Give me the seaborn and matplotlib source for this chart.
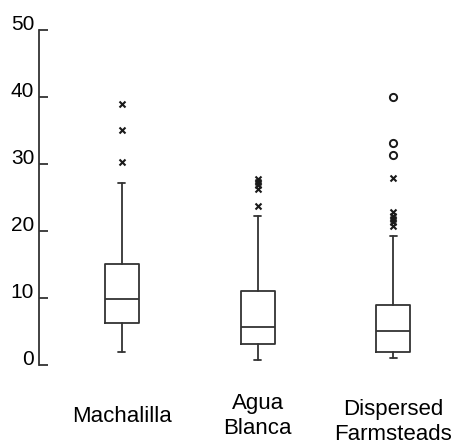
import matplotlib
matplotlib.use("Agg")
import matplotlib.pyplot as plt
import seaborn as sns
import pandas as pd
from matplotlib.transforms import blended_transform_factory

# Summary values
sites = ["Machalilla", "Agua\nBlanca", "Dispersed\nFarmsteads"]
medians = [9.9, 5.7, 5.1]
q1s = [6.2, 3.1, 1.9]
q3s = [15.1, 11.1, 8.9]
whisker_lo = [2.0, 0.7, 1.1]
whisker_hi = [27.2, 22.2, 19.3]
outliers = [[39.0, 35.1, 30.3],
            [27.8, 27.3, 26.8, 26.3, 23.7],
            [27.9, 22.8, 22.3, 21.8, 21.3, 20.7]]
extremes = [[], [], [40.0, 33.2, 31.4]]
yticks = [0, 10, 20, 30, 40, 50]

sns.set_theme(style="ticks")
plt.rcParams["font.family"] = ["Liberation Sans", "DejaVu Sans"]

ink = "#333333"
fig = plt.figure(figsize=(4.6, 4.46), dpi=100)
ax = fig.add_axes([0.0848, 0.1816, 0.9152, 0.7511])

# outliers (x) and extreme values (o)
out_df = pd.DataFrame([(sites[i], v) for i, vals in enumerate(outliers) for v in vals],
                      columns=["site", "value"])
ext_df = pd.DataFrame([(sites[i], v) for i, vals in enumerate(extremes) for v in vals],
                      columns=["site", "value"])
sns.stripplot(data=out_df, x="site", y="value", order=sites, jitter=False,
              marker="x", color="#1a1a1a", size=4.3, linewidth=1.5, ax=ax)
sns.stripplot(data=ext_df, x="site", y="value", order=sites, jitter=False,
              marker="o", color="white", edgecolor="#1a1a1a", size=5.2,
              linewidth=1.4, ax=ax)

stats = [dict(label=s, med=m, q1=a, q3=b, whislo=lo, whishi=hi, fliers=[])
         for s, m, a, b, lo, hi in zip(sites, medians, q1s, q3s, whisker_lo, whisker_hi)]
line = dict(color=ink, linewidth=1.3)
ax.bxp(stats, positions=range(len(sites)), widths=0.25, showfliers=False,
       manage_ticks=False, capwidths=0.05, boxprops=line, medianprops=line,
       whiskerprops=line, capprops=line)

ax.set_ylim(0, 50)
ax.set_xlim(-0.61, 2.49)
ax.set_yticks(yticks)
ax.set_yticklabels([str(t) for t in yticks], fontsize=15, color="black")
for t in ax.get_yticklabels():
    t.set_va("baseline")
ax.tick_params(axis="y", direction="in", length=6.5, width=1.3, color=ink, pad=3.5)
ax.set_xticks([])
ax.set_xlabel("")
ax.set_ylabel("")
sns.despine(ax=ax, bottom=True)
ax.spines["left"].set_color(ink)
ax.spines["left"].set_linewidth(1.3)

# category labels, each sitting at its own depth below the axis
label_y = [-0.122, -0.083, -0.102]
trans = blended_transform_factory(ax.transData, ax.transAxes)
for i, s in enumerate(sites):
    ax.text(i, label_y[i], s, transform=trans, ha="center", va="top",
            fontsize=16, color="black", linespacing=1.25, clip_on=False)

fig.savefig("out.png", dpi=100)
